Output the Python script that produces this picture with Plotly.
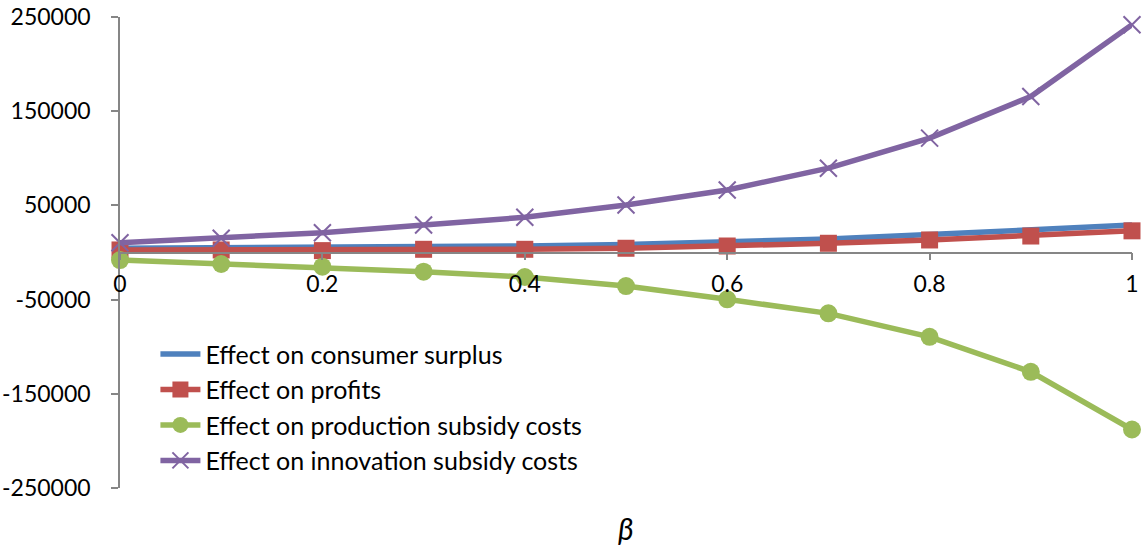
import plotly.graph_objects as go

# beta values
beta = [0, 0.1, 0.2, 0.3, 0.4, 0.5, 0.6, 0.7, 0.8, 0.9, 1.0]

consumer_surplus = [4500, 4800, 5500, 6000, 6900, 8500, 11000, 14300, 19000, 23900, 29200]
profits = [2700, 2700, 2000, 3400, 3400, 4500, 6900, 9800, 13300, 17500, 23000]
production_subsidy = [-8000, -12200, -15100, -20400, -26000, -35600, -49700, -64600, -89500, -126700, -187900]
innovation_subsidy = [10400, 15100, 21000, 29200, 37400, 50500, 66400, 89500, 121400, 165600, 241800]

y_ticks = [250000, 150000, 50000, -50000, -150000, -250000]
y_tick_text = ["250000", "150000", "50000", "-50000", "-150000", "-250000"]
x_ticks = [0, 0.2, 0.4, 0.6, 0.8, 1]
x_tick_text = ["0", "0.2", "0.4", "0.6", "0.8", "1"]

FONT = "Lato"
AXIS_COLOR = "#868686"

fig = go.Figure()

fig.add_trace(go.Scatter(
    x=beta, y=consumer_surplus,
    mode="lines",
    name="Effect on consumer surplus",
    line=dict(color="#4F81BD", width=5.5),
    cliponaxis=False
))
fig.add_trace(go.Scatter(
    x=beta, y=profits,
    mode="lines+markers",
    name="Effect on profits",
    line=dict(color="#C0504D", width=5.5),
    marker=dict(symbol="square", size=17, color="#C0504D"),
    cliponaxis=False
))
fig.add_trace(go.Scatter(
    x=beta, y=production_subsidy,
    mode="lines+markers",
    name="Effect on production subsidy costs",
    line=dict(color="#9BBB59", width=5.5),
    marker=dict(symbol="circle", size=18, color="#9BBB59"),
    cliponaxis=False
))
fig.add_trace(go.Scatter(
    x=beta, y=innovation_subsidy,
    mode="lines+markers",
    name="Effect on innovation subsidy costs",
    line=dict(color="#8064A2", width=5.5),
    marker=dict(symbol="x-thin-open", size=17, color="#8064A2",
                line=dict(color="#8064A2", width=2)),
    cliponaxis=False
))

fig.update_layout(
    width=1144, height=548,
    margin=dict(l=120, r=12, t=17, b=60),
    plot_bgcolor="white",
    paper_bgcolor="white",
    font=dict(family=FONT, size=22, color="black"),
    showlegend=True,
    legend=dict(
        x=0.035, y=0.333, xanchor="left", yanchor="top",
        bgcolor="rgba(0,0,0,0)",
        font=dict(family=FONT, size=25, color="black"),
        itemwidth=40,
        tracegroupgap=0
    ),
    xaxis=dict(
        range=[0, 1],
        tickvals=x_ticks, ticktext=x_tick_text,
        showgrid=False, zeroline=False,
        showline=True, linecolor=AXIS_COLOR, linewidth=1.5,
        ticks="outside", ticklen=7, tickcolor=AXIS_COLOR, tickwidth=1.5,
        ticklabelstandoff=4,
        anchor="free", position=0.5,
        automargin=False,
        tickfont=dict(family=FONT, size=23, color="black")
    ),
    yaxis=dict(
        range=[-250000, 250000],
        tickvals=y_ticks, ticktext=y_tick_text,
        showgrid=False, zeroline=False,
        showline=True, linecolor=AXIS_COLOR, linewidth=1.5,
        ticks="outside", ticklen=7, tickcolor=AXIS_COLOR, tickwidth=1.5,
        ticklabelstandoff=16,
        automargin=False,
        tickfont=dict(family=FONT, size=23, color="black")
    ),
    annotations=[dict(
        text="<i>β</i>", x=0.5, y=-0.085, xref="paper", yref="paper",
        yanchor="middle",
        showarrow=False, font=dict(family=FONT, size=30, color="black")
    )]
)

# page has a default body margin, drop it so the figure fills the window
fig.write_html("out.html", config={"displayModeBar": False},
               post_script="document.body.style.margin='0';")
